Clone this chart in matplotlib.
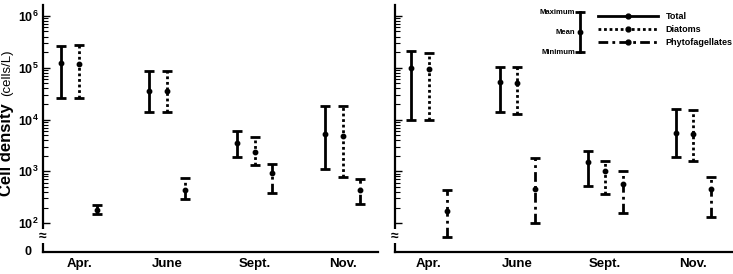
"""Seasonal cell density (mean with min-max range) for two sites."""

import numpy as np
import matplotlib
matplotlib.use("Agg")
import matplotlib.pyplot as plt
from matplotlib.lines import Line2D
from matplotlib.ticker import FixedLocator, FuncFormatter, NullFormatter

plt.rcParams["font.family"] = ["Liberation Sans", "DejaVu Sans"]
plt.rcParams["font.weight"] = "bold"
plt.rcParams["mathtext.fontset"] = "custom"
plt.rcParams["mathtext.bf"] = "Liberation Sans:bold"
plt.rcParams["mathtext.rm"] = "Liberation Sans:bold"

months = ["Apr.", "June", "Sept.", "Nov."]
series = ["Total", "Diatoms", "Phytofagellates"]

# left panel
a_total_mean = [1.25e5, 3.5e4, 3.5e3, 5.3e3]
a_total_max = [2.6e5, 8.7e4, 5.9e3, 1.8e4]
a_total_min = [2.6e4, 1.4e4, 1.9e3, 1.1e3]
a_diat_mean = [1.2e5, 3.6e4, 2.4e3, 4.8e3]
a_diat_max = [2.7e5, 8.7e4, 4.7e3, 1.8e4]
a_diat_min = [2.6e4, 1.4e4, 1.3e3, 7.7e2]
a_phyto_mean = [1.8e2, 4.4e2, 9.5e2, 4.4e2]
a_phyto_max = [2.2e2, 7.4e2, 1.4e3, 7.0e2]
a_phyto_min = [1.5e2, 2.9e2, 3.8e2, 2.3e2]

# right panel
b_total_mean = [1.0e5, 5.2e4, 1.5e3, 5.6e3]
b_total_max = [2.1e5, 1.05e5, 2.5e3, 1.6e4]
b_total_min = [1.0e4, 1.4e4, 5.2e2, 1.9e3]
b_diat_mean = [9.6e4, 5.1e4, 1.0e3, 5.2e3]
b_diat_max = [1.95e5, 1.05e5, 1.6e3, 1.5e4]
b_diat_min = [1.0e4, 1.3e4, 3.6e2, 1.6e3]
b_phyto_mean = [1.7e2, 4.5e2, 5.6e2, 4.6e2]
b_phyto_max = [4.4e2, 1.8e3, 1.0e3, 7.7e2]
b_phyto_min = [55, 1.0e2, 1.6e2, 1.3e2]

STYLES = ["-", (0, (1, 1)), (0, (3.5, 1.5, 1, 1.5))]
OFFSETS = [-0.2, 0.0, 0.2]
Y_LO, Y_HI, Y_BREAK = 10 ** 1.444, 10 ** 6.21, 10 ** 1.75

W, H = 733, 274
fig = plt.figure(figsize=(W / 100, H / 100), dpi=100)
ax1 = fig.add_axes([43 / W, 22 / H, 335 / W, 247 / H])
ax2 = fig.add_axes([395 / W, 22 / H, 338 / W, 247 / H])


def draw_panel(ax, data, xlim, labels=True):
    x = np.arange(1, len(months) + 1)
    for (mean, hi, lo), ls, off in zip(data, STYLES, OFFSETS):
        mean, hi, lo = map(np.asarray, (mean, hi, lo))
        eb = ax.errorbar(x + off, mean, yerr=[mean - lo, hi - mean],
                         fmt="o", ms=3.2, color="k", ecolor="k",
                         elinewidth=2.0, capsize=3.8, capthick=2.0)
        eb[2][0].set_linestyle(ls)
    ax.set_yscale("log")
    ax.set_ylim(Y_LO, Y_HI)
    ax.set_xlim(*xlim)
    ax.yaxis.set_major_locator(FixedLocator([1e2, 1e3, 1e4, 1e5, 1e6]))
    minors = [m * 10 ** e for e in range(2, 6) for m in range(2, 10)]
    ax.yaxis.set_minor_locator(FixedLocator(minors))
    ax.yaxis.set_minor_formatter(NullFormatter())
    if labels:
        ax.yaxis.set_major_formatter(
            FuncFormatter(lambda v, p: r"$\mathbf{10^{%d}}$" % round(np.log10(v))))
        ax.text(-0.035, Y_LO, "0", transform=ax.get_yaxis_transform(),
                ha="right", va="center", fontsize=9, fontweight="bold")
    else:
        ax.yaxis.set_major_formatter(NullFormatter())
    ax.tick_params(axis="y", which="major", direction="in", length=5,
                   width=1.0, labelsize=9, pad=3)
    ax.tick_params(axis="y", which="minor", direction="in", length=3.5, width=0.8)
    ax.set_xticks(x)
    ax.set_xticklabels(months, fontsize=9.5, fontweight="bold")
    ax.tick_params(axis="x", length=0, pad=4)
    for s in ("top", "right"):
        ax.spines[s].set_visible(False)
    for s in ("left", "bottom"):
        ax.spines[s].set_linewidth(1.6)
    # axis break mark
    ax.text(0, Y_BREAK, "\u2248", transform=ax.get_yaxis_transform(),
            ha="center", va="center", fontsize=10, fontweight="bold",
            bbox=dict(facecolor="white", edgecolor="none", pad=0.1))


draw_panel(ax1, [(a_total_mean, a_total_max, a_total_min),
                 (a_diat_mean, a_diat_max, a_diat_min),
                 (a_phyto_mean, a_phyto_max, a_phyto_min)], (0.59, 4.40))
draw_panel(ax2, [(b_total_mean, b_total_max, b_total_min),
                 (b_diat_mean, b_diat_max, b_diat_min),
                 (b_phyto_mean, b_phyto_max, b_phyto_min)], (0.614, 4.45),
           labels=False)

# y label
fig.text(7 / W, 1 - 150 / H, "Cell density", rotation=90, ha="center",
         va="center", fontsize=12, fontweight="bold")
fig.text(7 / W, 1 - 73 / H, "(cells/L)", rotation=90, ha="center",
         va="center", fontsize=9.5, fontweight="normal")

# key: max / mean / min
kx = (580 - 395) / 338
ky = [(252 - 12) / 247, (252 - 32) / 247, (252 - 52) / 247]
ax2.plot([kx, kx], [ky[0], ky[2]], color="k", lw=2.0,
         transform=ax2.transAxes, clip_on=False)
ax2.plot([kx, kx], [ky[0], ky[2]], ls="none", marker="_", ms=7.5, mew=2.0,
         color="k", transform=ax2.transAxes, clip_on=False)
ax2.plot([kx], [ky[1]], ls="none", marker="o", ms=3.2, color="k",
         transform=ax2.transAxes, clip_on=False)
for yy, t in zip(ky, ["Maximum", "Mean", "Minimum"]):
    ax2.text(kx - 0.015, yy, t, transform=ax2.transAxes, ha="right",
             va="center", fontsize=5.5, fontweight="bold")

handles = [Line2D([], [], color="k", lw=2.0, ls=ls, marker="o", ms=3.5)
           for ls in STYLES]
ax2.legend(handles, series, loc="upper left",
           bbox_to_anchor=((598 - 395) / 338, (252 - 12) / 247),
           frameon=False, fontsize=6.5, handlelength=6.6, handletextpad=0.9,
           labelspacing=0.45, borderpad=0, borderaxespad=0, numpoints=1)

fig.savefig("out.png", dpi=100)
